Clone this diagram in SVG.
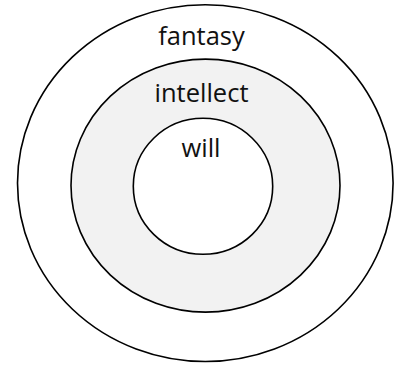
<svg xmlns="http://www.w3.org/2000/svg" width="396" height="365" viewBox="0 0 396 365">
<style>
.ring{stroke:#000;stroke-width:1.6}
.lbl{font-family:"Open Sans","Liberation Sans",sans-serif;font-size:25.5px;fill:#111;text-anchor:middle}
</style>
<rect width="396" height="365" fill="#fff"/>
<g id="fantasy">
<ellipse class="ring" cx="205.3" cy="183.1" rx="187.8" ry="178.4" fill="#fff"/>
<text class="lbl" x="201.5" y="45">fantasy</text>
</g>
<g id="intellect">
<ellipse class="ring" cx="205.5" cy="185.6" rx="134.5" ry="126.5" fill="#f2f2f2"/>
<text class="lbl" x="201.5" y="101.5">intellect</text>
</g>
<g id="will">
<ellipse class="ring" cx="203" cy="186.3" rx="69.7" ry="68" fill="#fff"/>
<text class="lbl" x="201" y="156.5">will</text>
</g>
<g id="connectors"/>
</svg>
